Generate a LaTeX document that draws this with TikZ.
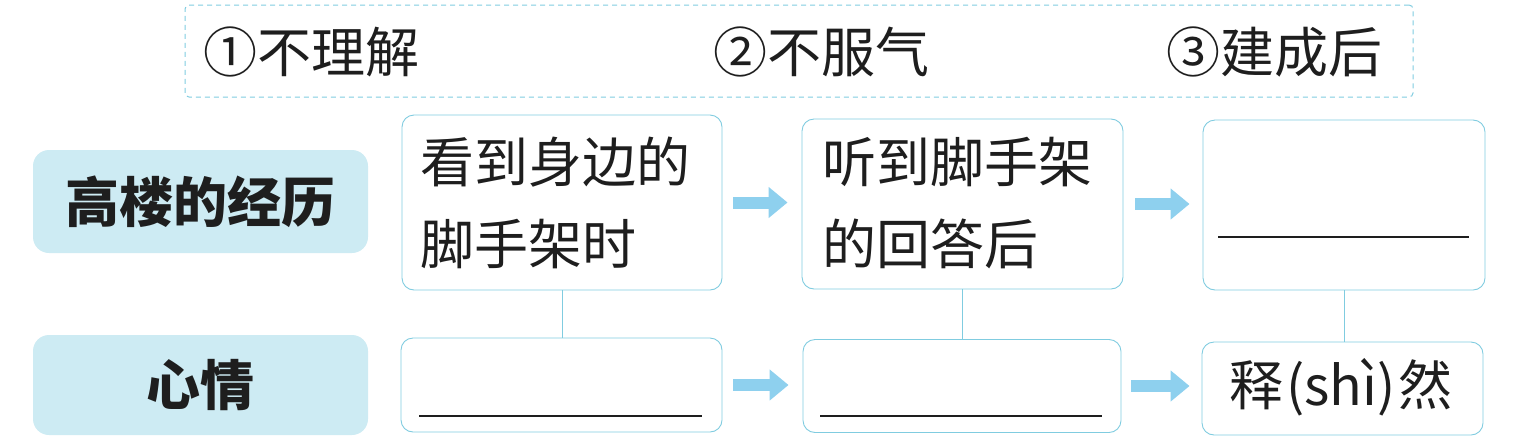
\documentclass[tikz,border=0pt]{standalone}
\usepackage{fontspec}
\newfontfamily\cjk{Noto Sans CJK SC}
\usetikzlibrary{arrows.meta}
\definecolor{lineblue}{RGB}{128,204,224}
\definecolor{fillblue}{RGB}{205,235,243}
\definecolor{arrowblue}{RGB}{142,208,238}
\definecolor{ink}{RGB}{30,30,30}
\tikzset{
  box/.style={draw=lineblue, line width=0.9pt, rounded corners=12pt, fill=white, inner sep=0pt, align=left, text=ink},
  labelbox/.style={fill=fillblue, rounded corners=16pt, minimum width=335pt, inner sep=0pt, text=ink,
     font=\cjk\bfseries\fontsize{54}{60}\selectfont},
  boxtext/.style={font=\cjk\fontsize{54}{82}\selectfont},
  toptext/.style={font=\cjk\fontsize{54}{60}\selectfont, anchor=west, inner sep=0pt, text=ink},
  flow/.style={draw=arrowblue, line width=12pt, -{Triangle[width=30pt,length=19pt]}},
  link/.style={draw=lineblue, line width=0.9pt},
  blank/.style={draw=ink, line width=1.4pt}
}
\begin{document}
\begin{tikzpicture}[x=1pt,y=-1pt]
\useasboundingbox (0,0) rectangle (1514,445);
% top dashed frame
\node[draw=lineblue, line width=1pt, dash pattern=on 5pt off 4pt, rounded corners=4pt,
      minimum width=1228pt, minimum height=92pt, inner sep=0pt] (frame) at (799,51) {};
\node[toptext] (o1) at (203,52) {①不理解};
\node[toptext] (o2) at (713,52) {②不服气};
\node[toptext] (o3) at (1166,52) {③建成后};
% row labels
\node[labelbox, minimum height=103pt] (L1) at (200.5,201.5) {高楼的经历};
\node[labelbox, minimum height=100pt] (L2) at (200.5,385) {心情};
% top boxes
\node[box, minimum width=320pt, minimum height=175pt] (t1) at (562,202.5) {};
\node[boxtext, anchor=west, inner sep=0pt, align=left, text=ink] (t1txt) at (420,203) {看到身边的\\脚手架时};
\node[box, minimum width=321pt, minimum height=170pt] (t2) at (962.5,204) {};
\node[boxtext, anchor=west, inner sep=0pt, align=left, text=ink] (t2txt) at (822,203) {听到脚手架\\的回答后};
\node[box, minimum width=282pt, minimum height=170pt] (t3) at (1344,205) {};
% bottom boxes
\node[box, minimum width=321pt, minimum height=94pt] (b1) at (561.5,385) {};
\node[box, minimum width=318pt, minimum height=93pt] (b2) at (962,386) {};
\node[box, minimum width=281pt, minimum height=93pt] (b3) at (1342.5,388.5) {};
\node[boxtext, inner sep=0pt, text=ink] (b3txt) at (1341,387) {释\kern3pt(shì)\kern3pt然};
% blanks
\draw[blank] (1218,237) -- (1469,237);
\draw[blank] (419,416) -- (702,416);
\draw[blank] (820,416) -- (1102,416);
% vertical links
\draw[link] (t1.south) -- (t1.south |- b1.north);
\draw[link] (t2.south) -- (t2.south |- b2.north);
\draw[link] (t3.south) -- (t3.south |- b3.north);
% arrows
\draw[flow, shorten <=11pt, shorten >=14pt] (t1.east) -- (t1.east -| t2.west);
\draw[flow, shorten <=12pt, shorten >=13pt] (t2.east) -- (t2.east -| t3.west);
\draw[flow, shorten <=11pt, shorten >=14pt] (b1.east) -- (b1.east -| b2.west);
\draw[flow, shorten <=10pt, shorten >=12pt] (b2.east) -- (b2.east -| b3.west);
\end{tikzpicture}
\end{document}
